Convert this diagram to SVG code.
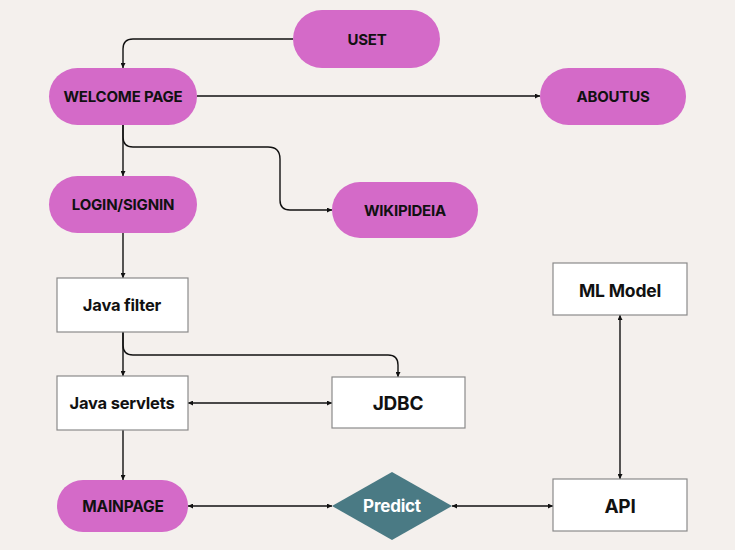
<svg xmlns="http://www.w3.org/2000/svg" width="735" height="550" viewBox="0 0 735 550">
<defs>
<marker id="ah" viewBox="0 0 10 10" refX="10" refY="5" markerWidth="5" markerHeight="5" orient="auto-start-reverse" markerUnits="userSpaceOnUse"><path d="M0,0 L10,5 L0,10 z" fill="#111"/></marker>
<style>
.pill{fill:#d46ac8}
.box{fill:#fff;stroke:#8a8a8a;stroke-width:1.2}
.dia{fill:#4a7a84}
.t{font-family:Inter,"Liberation Sans",sans-serif;font-weight:700;fill:#111;text-anchor:middle;dominant-baseline:central;letter-spacing:-0.2px}
.w{fill:#fff}
.c{fill:none;stroke:#111;stroke-width:1.4}
</style>
</defs>
<rect width="735" height="550" fill="#f4f0ed"/>
<g id="connectors">
<path class="c" d="M293,39 H133 Q123,39 123,49 V68" marker-end="url(#ah)"/>
<path class="c" d="M197,96 H540" marker-end="url(#ah)"/>
<path class="c" d="M123,125 V176" marker-end="url(#ah)"/>
<path class="c" d="M123,125 V137 Q123,147 133,147 H268 Q280,147 280,159 V200 Q280,210 290,210 H332" marker-end="url(#ah)"/>
<path class="c" d="M123,233 V278" marker-end="url(#ah)"/>
<path class="c" d="M123,332 V376" marker-end="url(#ah)"/>
<path class="c" d="M123,332 V345 Q123,355 133,355 H388 Q398,355 398,365 V377" marker-end="url(#ah)"/>
<path class="c" d="M188,403 H332" marker-start="url(#ah)" marker-end="url(#ah)"/>
<path class="c" d="M123,430 V480" marker-end="url(#ah)"/>
<path class="c" d="M188,506 H332" marker-start="url(#ah)" marker-end="url(#ah)"/>
<path class="c" d="M452,506 H553" marker-start="url(#ah)" marker-end="url(#ah)"/>
<path class="c" d="M620,315 V479" marker-start="url(#ah)" marker-end="url(#ah)"/>
</g>
<g id="uset"><rect class="pill" x="293" y="10" width="147" height="58" rx="29"/><text class="t" x="367" y="39" font-size="15">USET</text></g>
<g id="welcome"><rect class="pill" x="49" y="68" width="148" height="57" rx="28.5"/><text class="t" x="123" y="96" font-size="15">WELCOME PAGE</text></g>
<g id="aboutus"><rect class="pill" x="540" y="68" width="146" height="57" rx="28.5"/><text class="t" x="613" y="96" font-size="15">ABOUTUS</text></g>
<g id="login"><rect class="pill" x="49" y="176" width="148" height="57" rx="28.5"/><text class="t" x="123" y="204" font-size="15">LOGIN/SIGNIN</text></g>
<g id="wiki"><rect class="pill" x="332" y="182" width="146" height="56" rx="28"/><text class="t" x="405" y="210" font-size="15">WIKIPIDEIA</text></g>
<g id="javafilter"><rect class="box" x="57" y="278" width="131" height="54"/><text class="t" x="122" y="305" font-size="16.5">Java filter</text></g>
<g id="servlets"><rect class="box" x="57" y="376" width="131" height="54"/><text class="t" x="122" y="403" font-size="16.5">Java servlets</text></g>
<g id="jdbc"><rect class="box" x="332" y="377" width="133" height="51"/><text class="t" x="398" y="403" font-size="19">JDBC</text></g>
<g id="mainpage"><rect class="pill" x="57" y="480" width="131" height="52" rx="26"/><text class="t" x="123" y="506" font-size="15.5">MAINPAGE</text></g>
<g id="predict"><polygon class="dia" points="392,472 452,506 392,540 332,506"/><text class="t w" x="392" y="506" font-size="17">Predict</text></g>
<g id="mlmodel"><rect class="box" x="553" y="263" width="134" height="52"/><text class="t" x="620" y="290" font-size="17.5">ML Model</text></g>
<g id="api"><rect class="box" x="553" y="479" width="134" height="52"/><text class="t" x="620" y="506" font-size="19">API</text></g>
</svg>
